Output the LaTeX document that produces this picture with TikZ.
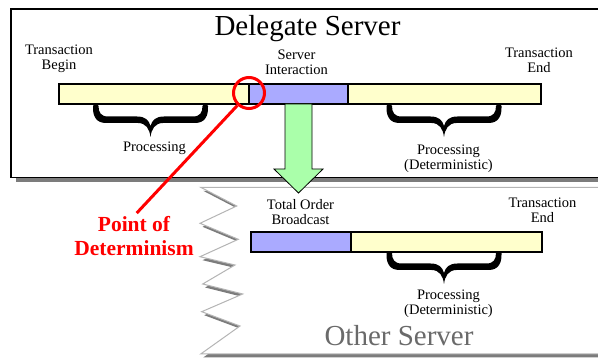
\documentclass[tikz,border=0pt]{standalone}
\usepackage{fontspec}
\setmainfont{Liberation Serif}
\usetikzlibrary{calc}

\definecolor{baryellow}{HTML}{FFFFCC}
\definecolor{barblue}{HTML}{AAAAFF}
\definecolor{arrowgreen}{HTML}{AAFFAA}
\definecolor{shadowgray}{HTML}{7C7C7C}
\definecolor{edgegray}{HTML}{B4B4B4}
\definecolor{titlegray}{HTML}{6A6A6A}

\tikzset{
  phase/.style={draw=black, line width=1.2pt, rectangle, inner sep=0pt, outer sep=0pt, minimum height=20pt},
  localwork/.style={phase, fill=baryellow},
  shared/.style={phase, fill=barblue},
  % anchor=base of a two-line label sits on its last line
  small/.style={font=\fontsize{14.5}{15}\selectfont, align=center, anchor=base, inner sep=0pt},
  title/.style={font=\fontsize{29}{32}\selectfont, anchor=base, inner sep=0pt},
  flow/.style={draw=black, line width=0.8pt, fill=arrowgreen, line join=miter},
  curly/.pic={
    \fill (0,0) .. controls (-0.5,10) and (3,17) .. (13,17) -- (45,17)
      .. controls (53,17) and (56.5,23) .. (57.5,31)
      .. controls (58.5,23) and (62,17) .. (70,17) -- (102,17)
      .. controls (112,17) and (115.5,10) .. (115,0)
      .. controls (115,-2) and (109.5,-2) .. (109.5,0)
      .. controls (109.5,6.5) and (107,10.5) .. (100,10.5) -- (71,10.5)
      .. controls (63,10.5) and (59,14) .. (57.5,20)
      .. controls (56,14) and (52,10.5) .. (44,10.5) -- (15,10.5)
      .. controls (8,10.5) and (5.5,6.5) .. (5.5,0)
      .. controls (5.5,-2) and (0,-2) .. (0,0) -- cycle;
  }
}

\begin{document}
\begin{tikzpicture}[x=1pt, y=-1pt]
\useasboundingbox (0,0) rectangle (598,358);

% delegate server panel with drop shadow
\fill[shadowgray] (15.5,13.5) rectangle (640,182);
\draw[fill=white, line width=1.5pt] (11,9) rectangle (630,177.5);

% other server panel: torn left edge, drop shadow
\def\tornpanel{(200.7,187.3) -- (640,187.3) -- (640,354) -- (200.7,354)
  -- (240,326) -- (201.7,311.7) -- (242.7,294) -- (202.7,284) -- (235,265)
  -- (200,256.7) -- (238.3,239.3) -- (200,223.3) -- (236.7,206) -- cycle}
\fill[shadowgray, shift={(2.5,3.5)}] \tornpanel;
\draw[fill=white, draw=edgegray, line width=1pt] \tornpanel;

% titles
\node[title] (dtitle) at (307.5,36) {Delegate Server};
\node[title, text=titlegray] (otitle) at (399,346) {Other Server};

% delegate server timeline
\node[localwork, minimum width=190pt] (d1) at (154,94) {};
\node[shared, minimum width=99pt] (d2) at (298.5,94) {};
\node[localwork, minimum width=193pt] (d3) at (444.5,94) {};

% other server timeline
\node[shared, minimum width=100pt] (o1) at (301,242) {};
\node[localwork, minimum width=191pt] (o2) at (446.5,242) {};

% braces
\pic at (93,106) {curly};
\pic at (386.5,106) {curly};
\pic at (386.5,253) {curly};

% labels
\node[small] (tbegin) at (59,70) {Transaction\\Begin};
\node[small] (sint) at (296.5,75) {Server\\Interaction};
\node[small] (tend) at (539,73) {Transaction\\End};
\node[small] (proc) at (154.5,152) {Processing};
\node[small] (dproc) at (448.5,170) {Processing\\(Deterministic)};
\node[small] (tob) at (300.5,225) {Total Order\\Broadcast};
\node[small] (oend) at (542.5,223) {Transaction\\End};
\node[small] (oproc) at (448.5,315) {Processing\\(Deterministic)};

% transfer to the other server
\coordinate (arrtip) at (d2.south |- 0,193);
\draw[flow] ($(d2.south)+(-13.5,0)$) -- ($(arrtip)+(-13.5,-24)$)
  -- ($(arrtip)+(-24.5,-24)$) -- (arrtip) -- ($(arrtip)+(24.5,-24)$)
  -- ($(arrtip)+(13.5,-24)$) -- ($(d2.south)+(13.5,0)$) -- cycle;

% point of determinism
\node[circle, draw=red, line width=3pt, minimum size=31pt, inner sep=0pt] (pod) at (249,93) {};
\node[font=\fontsize{21.5}{24}\selectfont\bfseries, text=red, align=center, anchor=north, inner sep=0pt] (podlabel) at (134,216) {Point of\\Determinism};
\draw[red, line width=3pt, shorten >=4pt] (pod) -- (podlabel.north);
\end{tikzpicture}
\end{document}
